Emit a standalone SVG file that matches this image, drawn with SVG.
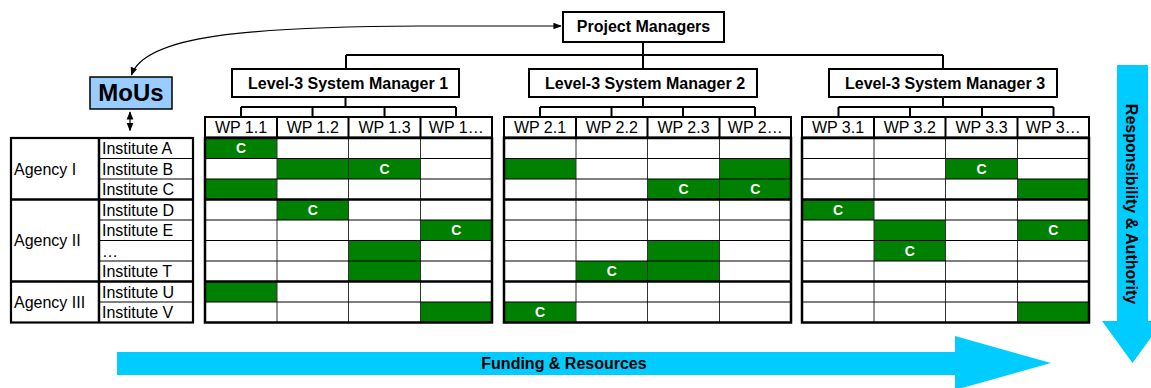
<svg xmlns="http://www.w3.org/2000/svg" width="1151" height="388" viewBox="0 0 1151 388">
<style>
text{font-family:"Liberation Sans",Arial,sans-serif;fill:#000}
.box{fill:#fff;stroke:#000;stroke-width:2}
.b16{font-size:16px;font-weight:bold;text-anchor:middle}
.n16{font-size:16px}
.wp{font-size:16px;text-anchor:middle}
.c{font-size:14px;font-weight:bold;fill:#fff;text-anchor:middle}
.g{fill:#008000}
.conn{fill:none;stroke:#000;stroke-width:2}
.thin{fill:none;stroke:#000;stroke-width:1.2}
.vthin{fill:none;stroke:#333;stroke-width:1}
.thick{fill:none;stroke:#000;stroke-width:2.5}
.blue{fill:#00CCFF}
</style>
<defs>
<marker id="ah" viewBox="0 0 10 10" refX="9" refY="5" markerWidth="7" markerHeight="7" orient="auto-start-reverse">
<path d="M0,1 L10,5 L0,9 Z" fill="#000"/>
</marker>
<g id="gridlines">
<path class="vthin" d="M72,0 V184.5 M143.5,0 V184.5 M215.5,0 V184.5"/>
<path class="thin" d="M0,20.5 H287 M0,41 H287 M0,82 H287 M0,102.5 H287 M0,123 H287 M0,164 H287"/>
<path class="thick" d="M0,61.5 H287 M0,143.5 H287"/>
<rect x="0" y="0" width="287" height="184.5" class="thick"/>
</g>
<g id="header">
<rect x="0" y="0" width="287" height="20.5" class="box" stroke-width="2.5"/>
<path class="conn" d="M72,0 V20.5 M143.5,0 V20.5 M215.5,0 V20.5"/>
</g>
</defs>

<rect width="1151" height="388" fill="#fff"/>

<g id="arrows">
<polygon class="blue" points="117,352 955,352 955,336 1051,363 955,390 955,375 117,375"/>
<text class="b16" x="564" y="369">Funding &amp; Resources</text>
<polygon class="blue" points="1117,65 1148,65 1148,321 1163,321 1132.5,363 1102,321 1117,321"/>
<text class="b16" transform="translate(1131,204) rotate(90)" x="0" y="5.5">Responsibility &amp; Authority</text>
</g>

<g id="connectors">
<path class="conn" d="M643,42 V55 M346,55 H943 M346,55 V69 M643,55 V69 M943,55 V69"/>
<path class="conn" d="M345.5,97 V107 M241,107 H456 M241,107 V117 M312.5,107 V117 M384.5,107 V117 M456,107 V117"/>
<path class="conn" d="M643,97 V107 M540,107 H755 M540,107 V117 M611.5,107 V117 M683,107 V117 M755,107 V117"/>
<path class="conn" d="M943,97 V107 M838.5,107 H1053.5 M838.5,107 V117 M910,107 V117 M982,107 V117 M1053.5,107 V117"/>
<path fill="none" stroke="#000" stroke-width="1.2" d="M561,26 L420,26 C250,27 145,35 131.5,75" marker-start="url(#ah)" marker-end="url(#ah)"/>
<path fill="none" stroke="#000" stroke-width="1.2" d="M130,112 V130.5" marker-start="url(#ah)" marker-end="url(#ah)"/>
</g>

<g id="project-managers">
<rect x="563" y="12" width="161" height="30" class="box"/>
<text class="b16" x="643.5" y="32">Project Managers</text>
</g>

<g id="l3-manager-1">
<rect x="232" y="69" width="227" height="28" class="box"/>
<text class="b16" x="348" y="89">Level-3 System Manager 1</text>
</g>
<g id="l3-manager-2">
<rect x="529" y="69" width="228" height="28" class="box"/>
<text class="b16" x="645" y="89">Level-3 System Manager 2</text>
</g>
<g id="l3-manager-3">
<rect x="829" y="69" width="228" height="28" class="box"/>
<text class="b16" x="945" y="89">Level-3 System Manager 3</text>
</g>

<g id="mous">
<rect x="90" y="77" width="82" height="32" fill="#99CCFF" stroke="#000" stroke-width="1.5"/>
<text x="131" y="101" font-size="24" font-weight="bold" text-anchor="middle">MoUs</text>
</g>

<g id="agency-table">
<path class="thin" d="M99,158.5 H193 M99,179 H193 M99,220 H193 M99,240.5 H193 M99,261 H193 M99,302 H193"/>
<path class="thick" d="M11,199.5 H193 M11,281.5 H193 M99,138 V322.5"/>
<rect x="11" y="138" width="182" height="184.5" fill="none" stroke="#000" stroke-width="2.2"/>
<text class="n16" x="14" y="174.5">Agency I</text>
<text class="n16" x="14" y="246">Agency II</text>
<text class="n16" x="14" y="307.5">Agency III</text>
<text class="n16" x="102" y="154">Institute A</text>
<text class="n16" x="102" y="174.5">Institute B</text>
<text class="n16" x="102" y="195">Institute C</text>
<text class="n16" x="102" y="215.5">Institute D</text>
<text class="n16" x="102" y="236">Institute E</text>
<text class="n16" x="102" y="256.5">…</text>
<text class="n16" x="102" y="277">Institute T</text>
<text class="n16" x="102" y="297.5">Institute U</text>
<text class="n16" x="102" y="318">Institute V</text>
</g>

<g id="wp-grid-1">
<use href="#header" x="205" y="117"/>
<text class="wp" x="241" y="133">WP 1.1</text>
<text class="wp" x="312.75" y="133">WP 1.2</text>
<text class="wp" x="384.5" y="133">WP 1.3</text>
<text class="wp" x="456.25" y="133">WP 1…</text>
<rect x="205" y="138" width="287" height="184.5" fill="#fff"/>
<rect class="g" x="205" y="138" width="72" height="20.5"/>
<rect class="g" x="277" y="158.5" width="71.5" height="20.5"/>
<rect class="g" x="348.5" y="158.5" width="72" height="20.5"/>
<rect class="g" x="205" y="179" width="72" height="20.5"/>
<rect class="g" x="277" y="199.5" width="71.5" height="20.5"/>
<rect class="g" x="420.5" y="220" width="71.5" height="20.5"/>
<rect class="g" x="348.5" y="240.5" width="72" height="20.5"/>
<rect class="g" x="348.5" y="261" width="72" height="20.5"/>
<rect class="g" x="205" y="281.5" width="72" height="20.5"/>
<rect class="g" x="420.5" y="302" width="71.5" height="20.5"/>
<use href="#gridlines" x="205" y="138"/>
<text class="c" x="241" y="153.3">C</text>
<text class="c" x="384.5" y="173.8">C</text>
<text class="c" x="312.75" y="214.8">C</text>
<text class="c" x="456.25" y="235.3">C</text>
</g>

<g id="wp-grid-2">
<use href="#header" x="504" y="117"/>
<text class="wp" x="540" y="133">WP 2.1</text>
<text class="wp" x="611.75" y="133">WP 2.2</text>
<text class="wp" x="683.5" y="133">WP 2.3</text>
<text class="wp" x="755.25" y="133">WP 2…</text>
<rect x="504" y="138" width="287" height="184.5" fill="#fff"/>
<rect class="g" x="504" y="158.5" width="72" height="20.5"/>
<rect class="g" x="719.5" y="158.5" width="71.5" height="20.5"/>
<rect class="g" x="647.5" y="179" width="72" height="20.5"/>
<rect class="g" x="719.5" y="179" width="71.5" height="20.5"/>
<rect class="g" x="647.5" y="240.5" width="72" height="20.5"/>
<rect class="g" x="576" y="261" width="71.5" height="20.5"/>
<rect class="g" x="647.5" y="261" width="72" height="20.5"/>
<rect class="g" x="504" y="302" width="72" height="20.5"/>
<use href="#gridlines" x="504" y="138"/>
<text class="c" x="683.5" y="194.3">C</text>
<text class="c" x="755.25" y="194.3">C</text>
<text class="c" x="611.75" y="276.3">C</text>
<text class="c" x="540" y="317.3">C</text>
</g>

<g id="wp-grid-3">
<use href="#header" x="802" y="117"/>
<text class="wp" x="838" y="133">WP 3.1</text>
<text class="wp" x="909.75" y="133">WP 3.2</text>
<text class="wp" x="981.5" y="133">WP 3.3</text>
<text class="wp" x="1053.25" y="133">WP 3…</text>
<rect x="802" y="138" width="287" height="184.5" fill="#fff"/>
<rect class="g" x="945.5" y="158.5" width="72" height="20.5"/>
<rect class="g" x="1017.5" y="179" width="71.5" height="20.5"/>
<rect class="g" x="802" y="199.5" width="72" height="20.5"/>
<rect class="g" x="874" y="220" width="71.5" height="20.5"/>
<rect class="g" x="1017.5" y="220" width="71.5" height="20.5"/>
<rect class="g" x="874" y="240.5" width="71.5" height="20.5"/>
<rect class="g" x="1017.5" y="302" width="71.5" height="20.5"/>
<use href="#gridlines" x="802" y="138"/>
<text class="c" x="981.5" y="173.8">C</text>
<text class="c" x="838" y="214.8">C</text>
<text class="c" x="1053.25" y="235.3">C</text>
<text class="c" x="909.75" y="255.8">C</text>
</g>
</svg>
